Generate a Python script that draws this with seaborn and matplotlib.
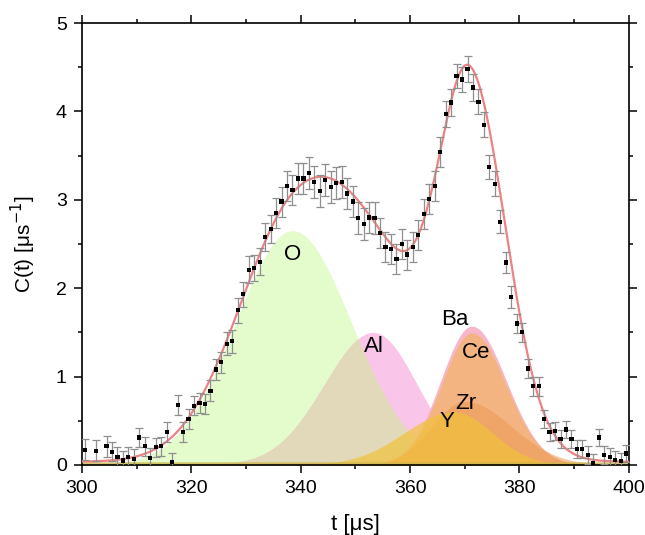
import numpy as np
import pandas as pd
import seaborn as sns
import matplotlib.pyplot as plt
from matplotlib.ticker import MultipleLocator

# ---------------- data ----------------
t_data = [300.5, 302.5, 304.5, 305.5, 306.5, 307.5, 308.5, 309.5, 310.5, 311.5,
          312.5, 313.5, 314.5, 315.5, 316.5, 317.5, 318.5, 319.5, 320.5, 321.5,
          322.5, 323.5, 324.5, 325.5, 326.5, 327.5, 328.5, 329.5, 330.5, 331.5,
          332.5, 333.5, 334.5, 335.5, 336.5, 337.5, 338.5, 339.5, 340.5, 341.5,
          342.5, 343.5, 344.5, 345.5, 346.5, 347.5, 348.5, 349.5, 350.5, 351.5,
          352.5, 353.5, 354.5, 355.5, 356.5, 357.5, 358.5, 359.5, 360.5, 361.5,
          362.5, 363.5, 364.5, 365.5, 366.5, 367.5, 368.5, 369.5, 370.5, 371.5,
          372.5, 373.5, 374.5, 375.5, 376.5, 377.5, 378.5, 379.5, 380.5, 381.5,
          382.5, 383.5, 384.5, 385.5, 386.5, 387.5, 388.5, 389.5, 390.5, 391.5,
          392.5, 393.5, 394.5, 395.5, 396.5, 397.5, 398.5, 399.5]
c_data = [0.17, 0.16, 0.21, 0.15, 0.09, 0.05, 0.09, 0.07, 0.31, 0.21,
          0.08, 0.20, 0.21, 0.37, 0.03, 0.68, 0.37, 0.52, 0.67, 0.70,
          0.69, 0.84, 1.08, 1.16, 1.37, 1.40, 1.75, 1.93, 2.21, 2.23,
          2.30, 2.58, 2.67, 2.85, 2.98, 3.16, 3.11, 3.24, 3.24, 3.30,
          3.20, 3.10, 3.22, 3.14, 3.19, 3.20, 3.07, 2.98, 2.79, 2.73,
          2.80, 2.79, 2.62, 2.47, 2.44, 2.33, 2.50, 2.38, 2.47, 2.60,
          2.84, 3.01, 3.16, 3.54, 3.97, 4.10, 4.40, 4.36, 4.48, 4.27,
          4.11, 3.85, 3.37, 3.18, 2.75, 2.29, 1.90, 1.60, 1.50, 1.09,
          0.89, 0.89, 0.52, 0.37, 0.38, 0.29, 0.40, 0.29, 0.18, 0.18,
          0.11, 0.02, 0.31, 0.11, 0.09, 0.06, 0.04, 0.13]
c_err = [0.12, 0.12, 0.12, 0.11, 0.11, 0.11, 0.11, 0.11, 0.11, 0.11,
         0.11, 0.11, 0.11, 0.11, 0.11, 0.11, 0.11, 0.11, 0.11, 0.11,
         0.11, 0.12, 0.12, 0.12, 0.13, 0.13, 0.14, 0.14, 0.15, 0.15,
         0.15, 0.16, 0.16, 0.17, 0.17, 0.17, 0.17, 0.18, 0.18, 0.18,
         0.18, 0.18, 0.18, 0.18, 0.18, 0.18, 0.18, 0.18, 0.18, 0.18,
         0.18, 0.18, 0.17, 0.17, 0.17, 0.17, 0.17, 0.17, 0.17, 0.17,
         0.17, 0.17, 0.17, 0.17, 0.15, 0.15, 0.14, 0.14, 0.15, 0.15,
         0.14, 0.14, 0.14, 0.14, 0.13, 0.12, 0.12, 0.11, 0.11, 0.11,
         0.11, 0.11, 0.10, 0.10, 0.10, 0.10, 0.10, 0.10, 0.10, 0.10,
         0.10, 0.10, 0.10, 0.10, 0.10, 0.10, 0.10, 0.10]

# fitted peak components (centre, height, left / right width)
comp_names = ['O', 'Al', 'Ba', 'Ce', 'Zr', 'Y']
comp_center = [338.5, 353.3, 371.3, 371.3, 370.0, 368.0]
comp_height = [2.65, 1.50, 1.57, 1.49, 0.72, 0.60]
comp_sigma_left = [10.4, 9.0, 5.7, 5.6, 6.0, 9.0]
comp_sigma_right = [10.8, 8.0, 6.3, 6.3, 8.5, 7.0]
baseline = 0.035

label_x = [338.6, 353.3, 368.2, 372.1, 370.2, 366.7]
label_y = [2.38, 1.34, 1.64, 1.27, 0.69, 0.49]

x_ticks = [300, 320, 340, 360, 380, 400]
y_ticks = [0, 1, 2, 3, 4, 5]

# ---------------- styling ----------------
comp_color = {'O': '#e4fbcc', 'Al': '#f9c6ea', 'Ba': '#f5b3c6',
              'Ce': '#f3b47a', 'Zr': '#ec9a52', 'Y': '#f1c23a'}
overlap_color = '#e2d9bb'
base_color = '#cdb64a'
fit_color = '#ee8282'

sns.set_theme(style='ticks')
plt.rcParams['font.family'] = ['Liberation Sans', 'DejaVu Sans']
plt.rcParams['text.color'] = 'black'
plt.rcParams['axes.labelcolor'] = 'black'
plt.rcParams['xtick.color'] = 'black'
plt.rcParams['ytick.color'] = 'black'

fig = plt.figure(figsize=(6.45, 5.35), dpi=100)
ax = fig.add_axes([0.127, 0.131, 0.848, 0.826])

t = np.linspace(300, 400, 1001)


def peak(i):
    s = np.where(t < comp_center[i], comp_sigma_left[i], comp_sigma_right[i])
    return comp_height[i] * np.exp(-(t - comp_center[i]) ** 2 / (2 * s ** 2))


curves = {n: peak(i) for i, n in enumerate(comp_names)}
fit = baseline + sum(curves.values())

# component fills
ax.fill_between(t, 0, curves['O'], color=comp_color['O'], lw=0, zorder=1)
ax.fill_between(t, 0, curves['Al'], color=comp_color['Al'], lw=0, zorder=1.1)
ax.fill_between(t, 0, np.minimum(curves['O'], curves['Al']), color=overlap_color,
                lw=0, zorder=1.2)
ax.fill_between(t, 0, curves['Ba'], color=comp_color['Ba'], lw=0, alpha=0.95, zorder=1.3)
ax.fill_between(t, 0, curves['Ce'], color=comp_color['Ce'], lw=0, alpha=0.9, zorder=1.4)
ax.fill_between(t, 0, curves['Zr'], color=comp_color['Zr'], lw=0, alpha=0.55, zorder=1.5)
ax.fill_between(t, 0, curves['Y'], color=comp_color['Y'], lw=0, alpha=0.7, zorder=1.6)
ax.fill_between(t, 0, baseline, color=base_color, lw=0, alpha=0.8, zorder=1.7)

# fit line
fit_df = pd.DataFrame({'t': t, 'C': fit})
sns.lineplot(data=fit_df, x='t', y='C', ax=ax, color=fit_color, lw=1.6, zorder=3)

# data with error bars
df = pd.DataFrame({'t': t_data, 'C': c_data, 'err': c_err})
ax.errorbar(df['t'], df['C'], yerr=df['err'], fmt='none', ecolor='#8f8f8f',
            elinewidth=0.9, capsize=3.0, capthick=0.9, zorder=4)
sns.scatterplot(data=df, x='t', y='C', ax=ax, marker='s', s=9, color='black',
                edgecolor='none', zorder=5)

# labels of components
for n, lx, ly in zip(comp_names, label_x, label_y):
    ax.text(lx, ly, n, fontsize=16, ha='center', va='center', color='black', zorder=6)

ax.set_xlim(300, 400)
ax.set_ylim(0, 5)
ax.set_xticks(x_ticks)
ax.set_yticks(y_ticks)
ax.xaxis.set_minor_locator(MultipleLocator(10))
ax.yaxis.set_minor_locator(MultipleLocator(0.5))
ax.tick_params(which='both', direction='out', top=True, right=True,
               labeltop=False, labelright=False, width=1.1, color='black')
ax.tick_params(which='major', length=6, labelsize=14, pad=5, labelcolor='black')
ax.tick_params(which='minor', length=3)
for sp in ax.spines.values():
    sp.set_linewidth(1.2)
    sp.set_color('black')

ax.set_xlabel('t [\u03bcs]', fontsize=16, labelpad=12, color='black')
ax.set_ylabel('C(t) [\u03bcs$^{-1}$]', fontsize=15, labelpad=13, color='black')

fig.savefig('out.png', dpi=100)
